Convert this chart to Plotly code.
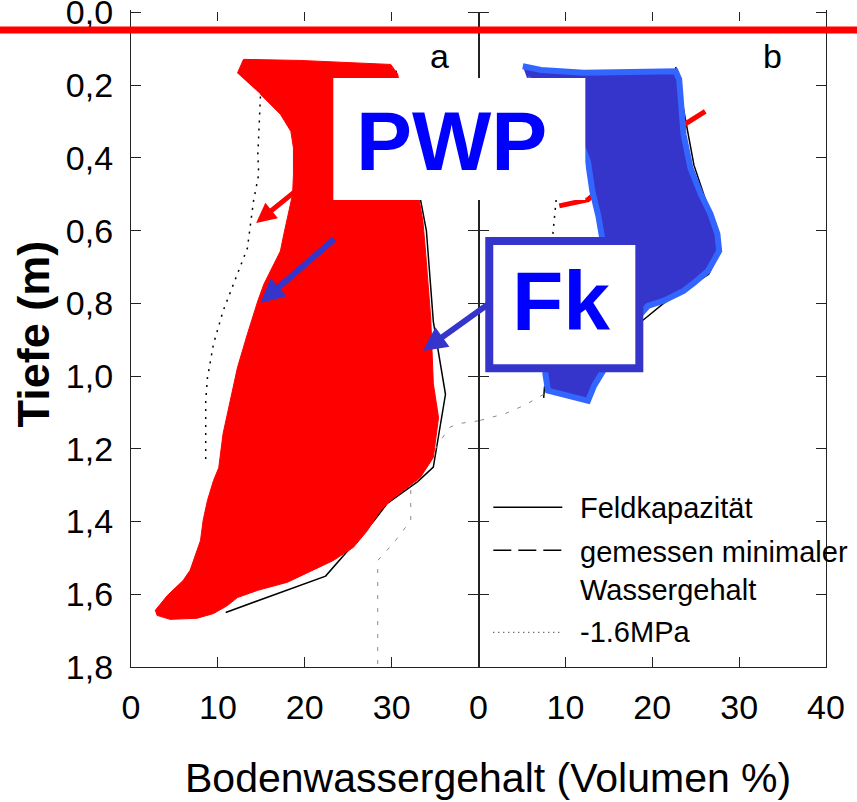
import plotly.graph_objects as go

FONT = "Liberation Sans, Arial, sans-serif"

# ---------------- data (Volumen %, Tiefe m) ----------------
depth_ticks = [0.0, 0.2, 0.4, 0.6, 0.8, 1.0, 1.2, 1.4, 1.6, 1.8]
x_ticks_a = [0, 10, 20, 30]
x_ticks_b = [0, 10, 20, 30, 40]

# panel a
fk_a_x = [30.5, 34.0, 34.8, 36.2, 34.8, 33.0, 29.5, 27.9, 22.4, 10.9]
fk_a_d = [0.16, 0.60, 0.85, 1.05, 1.25, 1.29, 1.35, 1.40, 1.55, 1.65]
pwp_a_x = [14.9, 14.7, 14.6, 14.7, 14.1, 13.4, 11.8, 10.6, 9.5, 8.8, 8.6, 8.6]
pwp_a_d = [0.231, 0.318, 0.390, 0.445, 0.519, 0.648, 0.747, 0.821, 0.911, 1.005, 1.068, 1.238]
min_a_x = [40.0, 37.6, 36.6, 32.2, 32.2, 30.2, 28.4, 28.4, 28.4]
min_a_d = [1.123, 1.131, 1.142, 1.307, 1.397, 1.460, 1.507, 1.787, 1.90]
red_x = [12.25, 12.95, 19.5, 27.2, 29.9, 30.7, 31.6, 32.8, 33.6, 33.9, 34.5, 34.8, 35.4, 34.8,
         33.3, 29.9, 28.7, 27.2, 25.6, 23.3, 20.3, 18.0, 14.6, 12.25, 11.1, 9.5, 7.6, 4.5, 3.0,
         2.8, 4.2, 6.0, 6.8, 8.0, 8.3, 8.8, 9.5, 10.1, 10.6, 11.4, 12.25, 13.4, 14.6, 15.3, 16.4,
         17.2, 17.6, 18.6, 18.7, 18.7, 18.4, 17.2, 14.9]
red_d = [0.167, 0.129, 0.132, 0.140, 0.143, 0.170, 0.299, 0.464, 0.574, 0.656, 0.840, 1.021, 1.114,
         1.224, 1.279, 1.342, 1.370, 1.425, 1.471, 1.507, 1.540, 1.567, 1.589, 1.609, 1.631, 1.653,
         1.666, 1.669, 1.658, 1.644, 1.603, 1.562, 1.534, 1.452, 1.397, 1.342, 1.287, 1.252, 1.158,
         1.068, 0.977, 0.884, 0.793, 0.747, 0.692, 0.656, 0.609, 0.500, 0.445, 0.373, 0.327, 0.280,
         0.225]

# panel b
fk_b_x = [22.7, 24.8, 26.2, 27.9, 26.5, 21.3, 19.0, 7.6, 7.5]
fk_b_d = [0.15, 0.42, 0.52, 0.65, 0.72, 0.80, 0.845, 1.03, 1.06]
pwp_b_x = [9.2, 9.0, 8.8, 8.5, 8.0]
pwp_b_d = [0.45, 0.50, 0.56, 0.63, 0.75]
min_b_x = [7.5, 6.6, 5.4, 3.1, 2.2, 0.0]
min_b_d = [1.05, 1.062, 1.079, 1.103, 1.109, 1.123]
red_b_x = [26.1, 23.9, 18.0, 12.6, 9.3]
red_b_d = [0.272, 0.305, 0.40, 0.515, 0.532]
blue_x = [5.1, 7.2, 12.1, 17.5, 22.7, 23.1, 23.6, 24.4, 25.6, 26.7, 27.5, 27.7, 26.4, 24.8, 23.6,
          21.3, 19.5, 17.5, 15.2, 14.1, 13.3, 12.6, 8.0, 7.7, 7.7, 12.0, 14.3, 13.8, 13.1, 12.6,
          10.0, 5.6]
blue_d = [0.148, 0.158, 0.166, 0.165, 0.162, 0.184, 0.335, 0.428, 0.500, 0.554, 0.609, 0.656,
          0.711, 0.744, 0.766, 0.793, 0.807, 0.86, 0.95, 0.994, 1.027, 1.068, 1.040, 0.994, 0.90,
          0.75, 0.629, 0.560, 0.491, 0.409, 0.25, 0.181]

legend_labels = ["Feldkapazität", "gemessen minimaler", "Wassergehalt", "-1.6MPa"]

BLUE = "#3535cc"
fig = go.Figure()

# panel a traces
fig.add_trace(go.Scatter(x=fk_a_x, y=fk_a_d, mode="lines", line=dict(color="black", width=1.5),
                         xaxis="x", yaxis="y", showlegend=False))
fig.add_trace(go.Scatter(x=pwp_a_x, y=pwp_a_d, mode="lines",
                         line=dict(color="black", width=1.5, dash="2px,6px"),
                         xaxis="x", yaxis="y", showlegend=False))
fig.add_trace(go.Scatter(x=min_a_x, y=min_a_d, mode="lines",
                         line=dict(color="#8a8a8a", width=1, dash="4px,9px"),
                         xaxis="x", yaxis="y", showlegend=False))
fig.add_trace(go.Scatter(x=red_x, y=red_d, mode="lines", fill="toself", fillcolor="#ff0000",
                         line=dict(color="#ff0000", width=1), xaxis="x", yaxis="y",
                         showlegend=False))

# panel b traces
fig.add_trace(go.Scatter(x=fk_b_x, y=fk_b_d, mode="lines", line=dict(color="black", width=1.5),
                         xaxis="x2", yaxis="y2", showlegend=False))
fig.add_trace(go.Scatter(x=pwp_b_x, y=pwp_b_d, mode="lines",
                         line=dict(color="black", width=1.5, dash="2px,6px"),
                         xaxis="x2", yaxis="y2", showlegend=False))
fig.add_trace(go.Scatter(x=min_b_x, y=min_b_d, mode="lines",
                         line=dict(color="#8a8a8a", width=1, dash="4px,9px"),
                         xaxis="x2", yaxis="y2", showlegend=False))
fig.add_trace(go.Scatter(x=red_b_x, y=red_b_d, mode="lines", line=dict(color="#ff0000", width=5),
                         xaxis="x2", yaxis="y2", showlegend=False))
fig.add_trace(go.Scatter(x=blue_x, y=blue_d, mode="lines", fill="toself", fillcolor=BLUE,
                         line=dict(color="#3366ff", width=6), xaxis="x2", yaxis="y2",
                         showlegend=False))

axis_common = dict(showline=True, linecolor="#222", linewidth=1.3, mirror="ticks",
                   ticks="inside", ticklen=10, tickwidth=1.3, tickcolor="#222",
                   showgrid=False, zeroline=False, ticklabeloverflow="allow",
                   automargin=False,
                   tickfont=dict(family=FONT, size=34, color="black"))

fig.update_layout(
    width=857, height=802,
    margin=dict(l=131, r=31, t=11, b=135, autoexpand=False),
    paper_bgcolor="white", plot_bgcolor="white",
    separators=",.",
    showlegend=False,
    xaxis=dict(axis_common, domain=[0, 0.5], range=[0, 40], tickvals=x_ticks_a,
               anchor="y", ticklabelstandoff=10),
    xaxis2=dict(axis_common, domain=[0.5, 1], range=[0, 40], tickvals=x_ticks_b,
                anchor="y2", ticklabelstandoff=10),
    yaxis=dict(axis_common, range=[1.8, -0.004], tickvals=depth_ticks, tickformat=".1f",
               anchor="x", ticklabelstandoff=10),
    yaxis2=dict(axis_common, range=[1.8, -0.004], tickvals=depth_ticks, showticklabels=False,
                anchor="x2", matches="y"),
)

shapes = []
# hide top frame line
shapes.append(dict(type="line", xref="paper", yref="paper", x0=0, x1=1, y0=1, y1=1,
                   line=dict(color="white", width=2), layer="above"))
# red horizontal line across whole figure
shapes.append(dict(type="line", xref="paper", yref="paper", x0=-0.25, x1=1.1, y0=0.971, y1=0.971,
                   line=dict(color="#ff0000", width=7), layer="above"))
# PWP box
shapes.append(dict(type="rect", xref="paper", yref="paper", x0=0.2911, x1=0.6537, y0=0.7118,
                   y1=0.8978, fillcolor="white", line=dict(width=0), layer="above"))
# Fk box
shapes.append(dict(type="rect", xref="paper", yref="paper", x0=0.5155, x1=0.7314, y0=0.4555,
                   y1=0.6492, fillcolor="white", line=dict(color=BLUE, width=8), layer="above"))
# legend samples
shapes.append(dict(type="line", xref="paper", yref="paper", x0=0.5213, x1=0.6206, y0=0.2436,
                   y1=0.2436, line=dict(color="black", width=1.5), layer="above"))
shapes.append(dict(type="line", xref="paper", yref="paper", x0=0.5213, x1=0.6206, y0=0.1780,
                   y1=0.1780, line=dict(color="black", width=1.5, dash="18px,7px"), layer="above"))
shapes.append(dict(type="line", xref="paper", yref="paper", x0=0.5213, x1=0.6206, y0=0.0529,
                   y1=0.0529, line=dict(color="black", width=1, dash="1px,4px"), layer="above"))
fig.update_layout(shapes=shapes)

ann = []
# arrows
ann.append(dict(xref="x", yref="y", x=14.4, y=0.579, axref="x", ayref="y", ax=19.0, ay=0.49,
                text="", showarrow=True, arrowhead=2, arrowsize=0.8, arrowwidth=5,
                arrowcolor="#ff0000", standoff=0))
ann.append(dict(xref="x", yref="y", x=14.9, y=0.799, axref="x", ayref="y", ax=23.55, ay=0.62,
                text="", showarrow=True, arrowhead=2, arrowsize=0.8, arrowwidth=6,
                arrowcolor=BLUE, standoff=0))
ann.append(dict(xref="x", yref="y", x=33.6, y=0.931, axref="x", ayref="y", ax=41.3, ay=0.799,
                text="", showarrow=True, arrowhead=2, arrowsize=0.8, arrowwidth=6,
                arrowcolor=BLUE, standoff=0))
# box texts
ann.append(dict(xref="paper", yref="paper", x=0.461, y=0.802, text="<b>PWP</b>", showarrow=False,
                xanchor="center", yanchor="middle",
                font=dict(family=FONT, size=84, color="#0000ff")))
ann.append(dict(xref="paper", yref="paper", x=0.6184, y=0.5577, text="<b>Fk</b>", showarrow=False,
                xanchor="center", yanchor="middle",
                font=dict(family=FONT, size=84, color="#0000ff")))
# panel letters
ann.append(dict(xref="paper", yref="paper", x=0.4436, y=0.9314, text="a", showarrow=False,
                xanchor="center", yanchor="middle", font=dict(family=FONT, size=34, color="black")))
ann.append(dict(xref="paper", yref="paper", x=0.9235, y=0.9314, text="b", showarrow=False,
                xanchor="center", yanchor="middle", font=dict(family=FONT, size=34, color="black")))
# legend texts
for lab, yy in zip(legend_labels, [0.2420, 0.1749, 0.1170, 0.0529]):
    ann.append(dict(xref="paper", yref="paper", x=0.6436, y=yy, text=lab, showarrow=False,
                    xanchor="left", yanchor="middle",
                    font=dict(family=FONT, size=29, color="black")))
# axis titles
ann.append(dict(xref="paper", yref="paper", x=0.514, y=-0.1685, text="Bodenwassergehalt (Volumen %)",
                showarrow=False, xanchor="center", yanchor="middle",
                font=dict(family=FONT, size=41, color="black")))
ann.append(dict(xref="paper", yref="paper", x=-0.1406, y=0.5074, text="<b>Tiefe (m)</b>",
                textangle=-90, showarrow=False, xanchor="center", yanchor="middle",
                font=dict(family=FONT, size=45, color="black")))
fig.update_layout(annotations=ann)

fig.write_html("out.html", config={"displayModeBar": False},
               post_script="document.body.style.margin='0';document.body.style.overflow='hidden';")
